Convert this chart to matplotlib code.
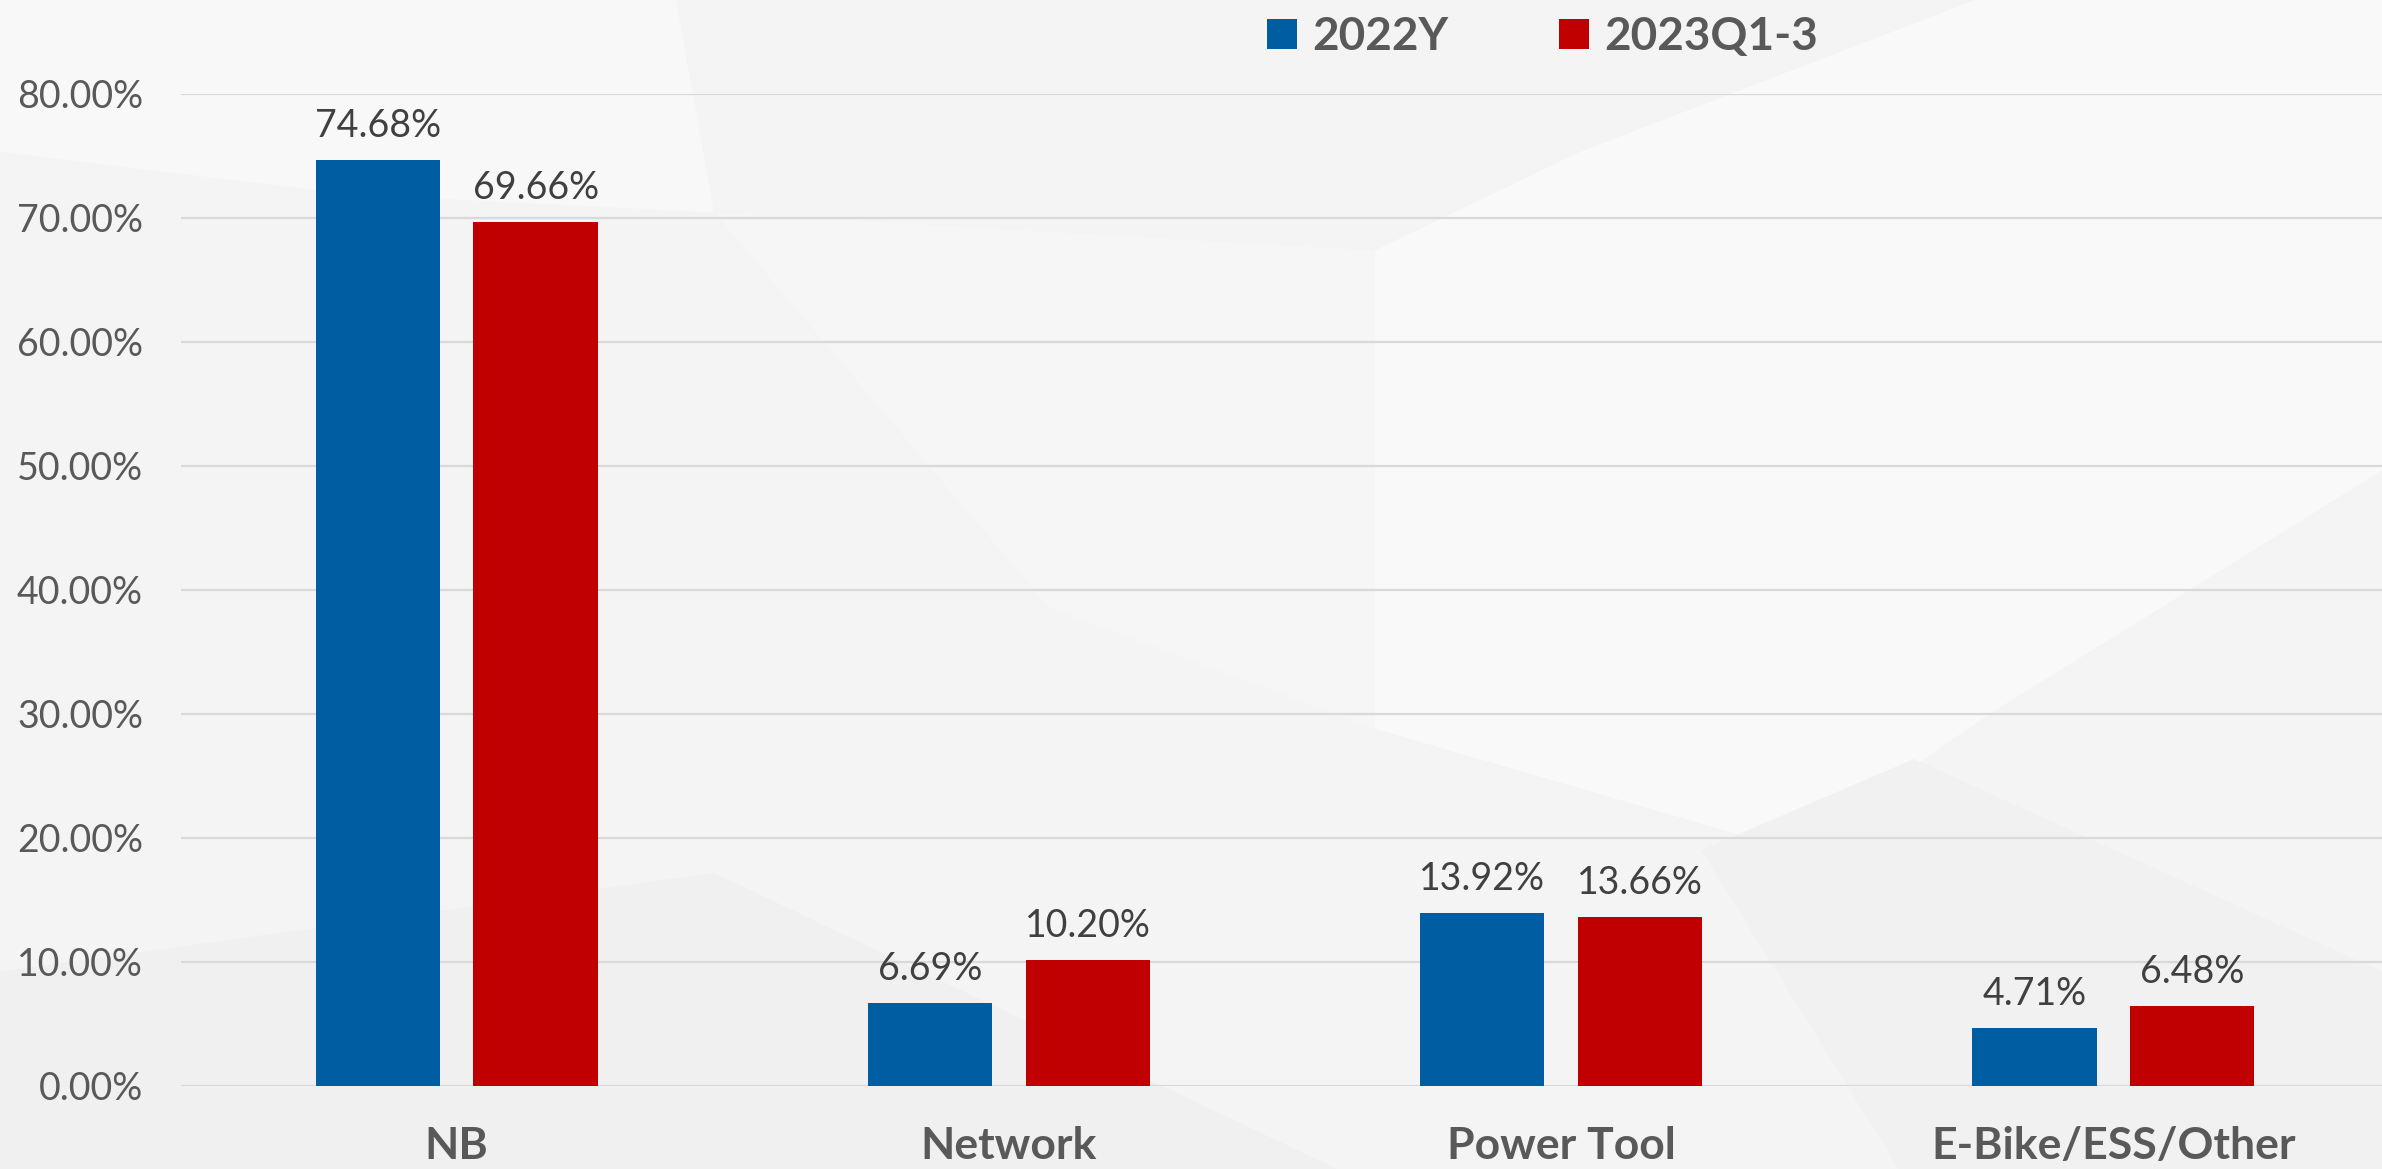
import matplotlib.pyplot as plt
from matplotlib.patches import Polygon, Rectangle
import numpy as np

categories = ["NB", "Network", "Power Tool", "E-Bike/ESS/Other"]
series_names = ["2022Y", "2023Q1-3"]
values_2022 = [74.68, 6.69, 13.92, 4.71]
values_2023 = [69.66, 10.20, 13.66, 6.48]
yticks = [0, 10, 20, 30, 40, 50, 60, 70, 80]

blue = "#005DA2"
red = "#C00000"
W, H = 2382, 1169

plt.rcParams['font.family'] = ['Lato', 'DejaVu Sans']

fig = plt.figure(figsize=(W / 100, H / 100), dpi=100)
fig.patch.set_facecolor("#F4F4F4")

# faint geometric background (shrunk-image pixel coords)
s = 1568.0
bg = [
    ([(0, 0), (445, 0), (470, 140), (230, 128), (0, 100)], "#F8F8F8"),
    ([(905, 165), (1040, 100), (1300, 0), (1568, 0), (1568, 310),
      (1310, 470), (1180, 560), (905, 480)], "#F9F9F9"),
    ([(0, 640), (470, 575), (880, 770), (0, 770)], "#F0F0F0"),
    ([(1120, 560), (1260, 500), (1568, 640), (1568, 770), (1250, 770)], "#F1F1F1"),
    ([(470, 140), (690, 400), (905, 480), (905, 165)], "#F6F6F6"),
]
for pts, c in bg:
    xy = [(x / s, 1 - y / 770.0) for x, y in pts]
    fig.patches.append(Polygon(xy, closed=True, transform=fig.transFigure,
                               facecolor=c, edgecolor="none", zorder=-5))

ax = fig.add_axes([180.5 / W, 1 - 1086 / H, 2209 / W, (1086 - 94) / H])
ax.set_facecolor("none")
ax.set_zorder(1)

x = np.arange(len(categories))
bw = 0.225
off = 0.143
b1 = ax.bar(x - off, values_2022, bw, color=blue, zorder=3)
b2 = ax.bar(x + off, values_2023, bw, color=red, zorder=3)

for bars, vals in ((b1, values_2022), (b2, values_2023)):
    for r, v in zip(bars, vals):
        ax.annotate("%.2f%%" % v, (r.get_x() + r.get_width() / 2, v),
                    xytext=(0, 16.5), textcoords="offset points",
                    ha="center", va="baseline", fontsize=27, color="#404040",
                    annotation_clip=False)

ax.set_xlim(-0.5, len(categories) - 0.5)
ax.set_ylim(0, 80)
ax.set_yticks(yticks)
ax.set_yticklabels(["%.2f%%" % t for t in yticks], fontsize=27, color="#595959")
ax.set_xticks(x)
ax.set_xticklabels(categories, fontsize=32, fontweight="bold", color="#595959")
ax.tick_params(axis="both", length=0)
ax.tick_params(axis="y", pad=27)
ax.tick_params(axis="x", pad=29)
ax.grid(axis="y", color="#D9D9D9", linewidth=1.6, zorder=0)
for sp in ax.spines.values():
    sp.set_visible(False)

# legend drawn at top
for i, (name, c) in enumerate(zip(series_names, [blue, red])):
    x0 = [1267, 1559][i]
    fig.patches.append(Rectangle((x0 / W, 1 - 49 / H), 30 / W, 30 / H,
                                 transform=fig.transFigure, facecolor=c,
                                 edgecolor="none", zorder=2))
    fig.text((x0 + 45) / W, 1 - 50 / H, name, fontsize=33, fontweight="bold",
             color="#595959", ha="left", va="baseline")

fig.savefig("out.png", dpi=100, facecolor=fig.get_facecolor())
